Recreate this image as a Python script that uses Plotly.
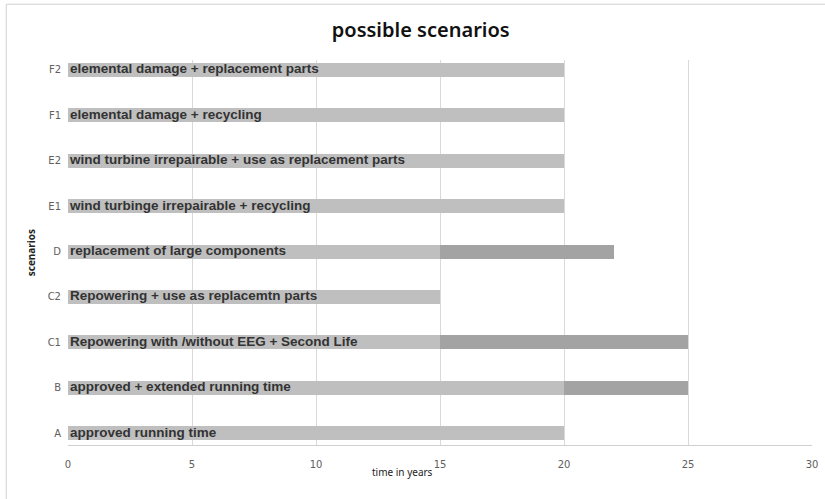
import plotly.graph_objects as go

# scenarios bottom to top
codes = ["A", "B", "C1", "C2", "D", "E1", "E2", "F1", "F2"]
labels = [
    "approved running time",
    "approved + extended running time",
    "Repowering with /without EEG + Second Life",
    "Repowering + use as replacemtn parts",
    "replacement of large components",
    "wind turbinge irrepairable + recycling",
    "wind turbine irrepairable + use as replacement parts",
    "elemental damage + recycling",
    "elemental damage + replacement parts",
]
base_years = [20, 20, 15, 15, 15, 20, 20, 20, 20]
extra_years = [0, 5, 10, 0, 7, 0, 0, 0, 0]
x_ticks = [0, 5, 10, 15, 20, 25, 30]

fig = go.Figure()
fig.add_trace(go.Bar(
    y=codes, x=base_years, orientation="h", width=0.31,
    marker=dict(color="#bfbfbf", line=dict(width=0)), hoverinfo="x+y",
))
fig.add_trace(go.Bar(
    y=codes, x=extra_years, orientation="h", width=0.31,
    marker=dict(color="#a3a3a3", line=dict(width=0)), hoverinfo="x+y",
))
fig.add_trace(go.Scatter(
    y=codes, x=[0.08] * len(codes), mode="text", text=labels,
    textposition="middle right",
    textfont=dict(family="Liberation Sans", size=13.5, color="#333333", weight="bold"),
    hoverinfo="skip",
))

fig.update_layout(
    width=825, height=499,
    barmode="stack", showlegend=False,
    plot_bgcolor="white", paper_bgcolor="white",
    margin=dict(l=68, r=13, t=60, b=54),
    title=dict(text="possible scenarios", x=0.51, xanchor="center", y=0.94, yanchor="middle",
               font=dict(family="Noto Sans", size=20, color="#111111", weight=600)),
    xaxis=dict(range=[0, 30], tickvals=x_ticks, showgrid=True, gridcolor="#d9d9d9",
               gridwidth=1, zeroline=False, showline=True, linecolor="#d0d0d0",
               ticks="", ticklabelstandoff=10, automargin=False,
               tickfont=dict(family="DejaVu Sans", size=10, color="#606060")),
    yaxis=dict(range=[-0.26, 8.22], showgrid=False, zeroline=False, ticks="",
               ticklabelstandoff=6, automargin=False,
               tickfont=dict(family="DejaVu Sans", size=10, color="#606060")),
    annotations=[
        dict(text="time in years", xref="paper", yref="paper", x=0.45, y=-0.07,
             xanchor="center", yanchor="middle", showarrow=False,
             font=dict(family="Noto Sans", size=10, color="#222222")),
        dict(text="<b>scenarios</b>", xref="paper", yref="paper", x=-0.05, y=0.5,
             xanchor="center", yanchor="middle", showarrow=False, textangle=-90,
             font=dict(family="Noto Sans", size=10, color="#222222")),
    ],
    shapes=[
        dict(type="rect", xref="paper", yref="paper", x0=-0.083, x1=1.2, y0=-0.5, y1=1.145,
             line=dict(color="#d0d0d0", width=1), layer="below"),
    ],
)

fig.write_html("out.html", config={"displayModeBar": False},
               post_script="document.body.style.margin='0';document.body.style.overflow='hidden';")
